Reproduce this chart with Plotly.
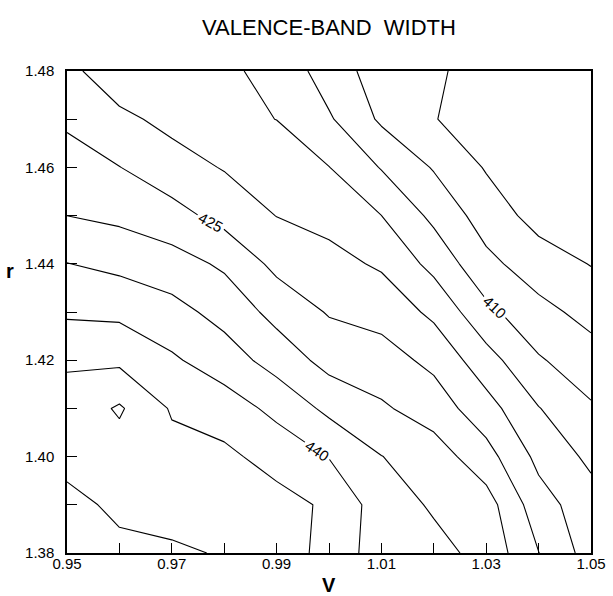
import plotly.graph_objects as go

# Grid axes
V = [0.95, 0.96, 0.97, 0.98, 0.99, 1.00, 1.01, 1.02, 1.03, 1.04, 1.05]
r = [1.38, 1.39, 1.40, 1.41, 1.42, 1.43, 1.44, 1.45, 1.46, 1.47, 1.48]

# Valence-band width values (one list per r row)
w_138 = [452.0, 450.8, 450.6, 449.7, 447.8, 443.3, 437.5, 436.5, 433.5, 425.1, 417.8]
w_139 = [451.0, 449.3, 448.4, 447.9, 446.8, 444.2, 437.5, 434.4, 432.2, 422.1, 417.1]
w_140 = [448.9, 447.8, 446.6, 446.1, 443.1, 439.8, 435.1, 432.5, 426.9, 418.7, 413.9]
w_141 = [446.8, 450.6, 444.5, 442.5, 438.7, 433.8, 430.7, 427.6, 422.0, 415.2, 410.6]
w_142 = [444.4, 444.0, 440.7, 437.4, 433.0, 428.3, 427.0, 423.8, 417.0, 410.5, 407.1]
w_143 = [439.2, 438.9, 436.7, 433.3, 428.4, 424.6, 423.3, 418.9, 411.3, 406.5, 403.4]
w_144 = [435.1, 433.7, 432.1, 429.2, 423.7, 421.6, 419.3, 413.5, 406.3, 402.4, 399.8]
w_145 = [429.98, 428.9, 426.8, 423.3, 419.9, 418.4, 415.02, 408.8, 402.7, 398.2, 397.0]
w_146 = [427.1, 425.1, 422.0, 419.7, 417.4, 415.1, 409.7, 404.6, 399.6, 397.3, 396.5]
w_147 = [424.2, 421.1, 418.7, 416.0, 414.96, 410.6, 404.2, 400.3, 396.4, 396.8, 396.3]
w_148 = [421.3, 417.0, 416.4, 415.8, 413.7, 407.5, 402.8, 401.5, 396.0, 396.5, 396.2]

width_grid = [w_138, w_139, w_140, w_141, w_142, w_143, w_144, w_145, w_146, w_147, w_148]

# Contour level groups (levels every 5; 410/425/440 labelled)
unlabeled_a = dict(start=400, end=445, size=15)
unlabeled_b = dict(start=405, end=450, size=15)
labeled = dict(start=410, end=440, size=15)

FONT = "Liberation Sans"

fig = go.Figure()
for lv, lab in [(unlabeled_a, False), (unlabeled_b, False), (labeled, True)]:
    fig.add_trace(go.Contour(
        x=V, y=r, z=width_grid,
        autocontour=False,
        contours=dict(start=lv["start"], end=lv["end"], size=lv["size"],
                      coloring="none", showlabels=lab,
                      labelfont=dict(family=FONT, size=15, color="black")),
        line=dict(color="black", width=1.1, smoothing=0),
        showscale=False, hoverinfo="skip",
    ))

axis_common = dict(
    showline=True, linecolor="black", linewidth=1.5, mirror=True,
    ticks="inside", ticklen=10, tickwidth=1.2, tickcolor="black",
    showgrid=False, zeroline=False, tickformat=".2f", automargin=False,
    tickfont=dict(family=FONT, size=15, color="black"),
)

fig.update_xaxes(range=[0.95, 1.05], tick0=0.95, dtick=0.02,
                 minor=dict(tick0=0.95, dtick=0.01, ticks="inside", ticklen=10,
                            tickwidth=1.2, tickcolor="black", showgrid=False),
                 ticklabelstandoff=-4,
                 **axis_common)
fig.update_yaxes(range=[1.38, 1.48], tick0=1.38, dtick=0.02,
                 minor=dict(tick0=1.38, dtick=0.01, ticks="inside", ticklen=10,
                            tickwidth=1.2, tickcolor="black", showgrid=False),
                 ticklabelstandoff=8,
                 **axis_common)

fig.update_layout(
    width=613, height=596,
    margin=dict(l=67, r=22, t=71, b=43),
    plot_bgcolor="white", paper_bgcolor="white",
    showlegend=False,
    title=dict(text="VALENCE-BAND  WIDTH", x=0.5, xref="paper", y=0.955, yanchor="middle",
               font=dict(family=FONT, size=22, color="black")),
    annotations=[
        dict(text="<b>V</b>", xref="paper", yref="paper", x=0.5, y=-0.066,
             xanchor="center", yanchor="middle", showarrow=False,
             font=dict(family=FONT, size=20, color="black")),
        dict(text="<b>r</b>", xref="paper", yref="paper", x=-0.108, y=0.585,
             xanchor="center", yanchor="middle", showarrow=False,
             font=dict(family=FONT, size=20, color="black")),
    ],
)

fig.write_html("out.html")
